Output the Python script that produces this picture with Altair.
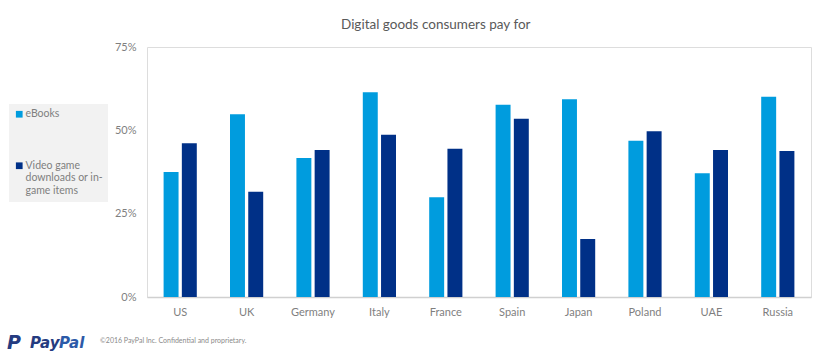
import altair as alt
import pandas as pd

countries = ["US", "UK", "Germany", "Italy", "France", "Spain", "Japan", "Poland", "UAE", "Russia"]
ebooks = [37.5, 54.8, 41.7, 61.4, 29.9, 57.7, 59.3, 46.9, 37.1, 60.1]
video = [46.1, 31.6, 44.1, 48.7, 44.5, 53.5, 17.4, 49.7, 44.1, 43.8]
series = ["eBooks", "Video game downloads or in-game items"]
video_label_lines = ["Video game", "downloads or in-", "game items"]
colors = ["#009CDE", "#003087"]
y_ticks = [0, 25, 50, 75]
title_text = "Digital goods consumers pay for"
footer_text = "\u00a92016 PayPal Inc. Confidential   and proprietary."
logo_pay = "Pay"
logo_pal = "Pal"
logo_p = "P"

FONT = "Lato"
GRAY = "#7f7f7f"

rows = []
for i, c in enumerate(countries):
    rows.append({"country": c, "series": series[0], "value": ebooks[i]})
    rows.append({"country": c, "series": series[1], "value": video[i]})
df = pd.DataFrame(rows)

label_expr = (
    "datum.label == '" + series[0] + "' ? '" + series[0] + "' : ["
    + ", ".join("'" + s + "'" for s in video_label_lines) + "]"
)

bars = alt.Chart(df).mark_bar().encode(
    x=alt.X("country:N", sort=countries, title=None,
            scale=alt.Scale(paddingInner=0.5, paddingOuter=0.25),
            axis=alt.Axis(labelAngle=0, ticks=False, domain=True, domainColor="#d0d0d0",
                          domainWidth=1.5, labelColor=GRAY, labelFont=FONT, labelFontSize=11,
                          labelPadding=9, grid=False)),
    xOffset=alt.XOffset("series:N", sort=series, scale=alt.Scale(paddingInner=0.18)),
    y=alt.Y("value:Q", title=None,
            scale=alt.Scale(domain=[0, 75], nice=False),
            axis=alt.Axis(values=y_ticks, labelExpr="datum.value + '%'", ticks=False, domain=False,
                          grid=False, labelColor=GRAY, labelFont=FONT, labelFontSize=11,
                          labelPadding=11)),
    color=alt.Color("series:N", sort=series,
                    scale=alt.Scale(domain=series, range=colors),
                    legend=alt.Legend(title=None, orient="none", legendX=-138, legendY=57,
                                      fillColor="#f2f2f2", padding=5, symbolType="square",
                                      symbolSize=45, symbolStrokeWidth=0, labelFont=FONT,
                                      labelFontSize=10.5, labelColor=GRAY, labelLimit=200,
                                      labelExpr=label_expr, labelBaseline="middle",
                                      labelOffset=1, rowPadding=40.5)),
)

footer_df = pd.DataFrame([{"t": footer_text}])
footer = alt.Chart(footer_df).mark_text(
    align="left", baseline="middle", font=FONT, fontSize=7, color="#8a8a8a"
).encode(x=alt.value(-47), y=alt.value(294), text="t:N")

logo_df = pd.DataFrame([{"pay": logo_pay, "pal": logo_pal, "p": logo_p}])
p_icon = alt.Chart(logo_df).mark_text(
    align="left", baseline="alphabetic", font="DejaVu Sans", fontSize=19, fontWeight="bold",
    fontStyle="italic", color="#253B80"
).encode(x=alt.value(-140), y=alt.value(302), text="p:N")
pay = alt.Chart(logo_df).mark_text(
    align="left", baseline="alphabetic", font="DejaVu Sans", fontSize=15, fontWeight="bold",
    fontStyle="italic", color="#253B80"
).encode(x=alt.value(-117), y=alt.value(301), text="pay:N")
pal = alt.Chart(logo_df).mark_text(
    align="left", baseline="alphabetic", font="DejaVu Sans", fontSize=15, fontWeight="bold",
    fontStyle="italic", color="#2c5aa8"
).encode(x=alt.value(-88), y=alt.value(301), text="pal:N")

chart = alt.layer(bars, footer, p_icon, pay, pal).properties(
    width=664, height=250,
    title=alt.TitleParams(title_text, anchor="start", frame="group", dx=194, offset=10,
                          font=FONT, fontSize=13.5, fontWeight="normal", color="#595959"),
    autosize=alt.AutoSizeParams(type="none"),
    padding={"left": 147, "top": 47, "right": 5, "bottom": 56},
).configure_view(stroke=None).configure(background="white")

chart.save("out.html", embed_options={"renderer": "svg", "actions": False})
